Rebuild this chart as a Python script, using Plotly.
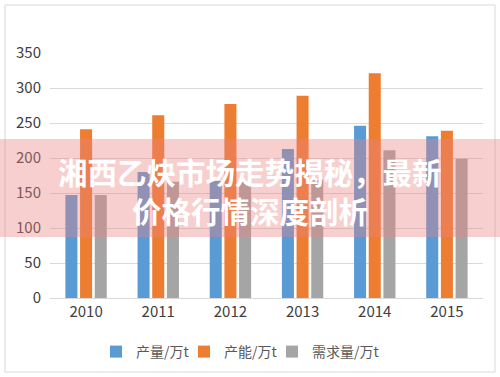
import plotly.graph_objects as go

years = ["2010", "2011", "2012", "2013", "2014", "2015"]
production = [147, 180, 167, 213, 246, 231]
capacity = [241, 261, 277, 289, 321, 239]
demand = [147, 166, 166, 169, 211, 199]
series_names = ["产量/万t", "产能/万t", "需求量/万t"]
colors = ["#5B9BD5", "#ED7D31", "#A5A5A5"]
y_ticks = [0, 50, 100, 150, 200, 250, 300, 350]
title_lines = ["湘西乙炔市场走势揭秘，最新", "价格行情深度剖析"]

W, H = 500, 377
L, R, T, B = 50, 17, 53, 79

font_family = "Noto Sans CJK SC, Microsoft YaHei, sans-serif"

def py(pix):
    return 1 - (pix - T) / (H - T - B)

def px(pix):
    return (pix - L) / (W - L - R)

legend_ids = ["legend", "legend2", "legend3"]
legend_left = [96, 184, 272]

fig = go.Figure()
for name, vals, c, lid in zip(series_names, [production, capacity, demand], colors, legend_ids):
    fig.add_trace(go.Bar(x=years, y=vals, name=name, legend=lid,
                         marker=dict(color=c, line=dict(width=0))))

legend_common = dict(orientation="h", yanchor="middle", xanchor="left",
                     font=dict(size=14, color="#595959"), itemwidth=30,
                     bgcolor="rgba(0,0,0,0)")

fig.update_layout(
    width=W, height=H,
    margin=dict(l=L, r=R, t=T, b=B, autoexpand=False),
    paper_bgcolor="white", plot_bgcolor="white",
    barmode="group", bargap=0.39, bargroupgap=0.18,
    font=dict(family=font_family, color="#595959", size=15),
    showlegend=True,
    legend=dict(x=px(legend_left[0]), y=py(352), **legend_common),
    legend2=dict(x=px(legend_left[1]), y=py(352), **legend_common),
    legend3=dict(x=px(legend_left[2]), y=py(352), **legend_common),
    xaxis=dict(showgrid=False, showline=True, linecolor="#D9D9D9", linewidth=1,
               ticks="", tickfont=dict(size=15, color="#404040")),
    yaxis=dict(range=[0, 350], tickvals=y_ticks, showgrid=True, gridcolor="#D9D9D9",
               gridwidth=1, zeroline=False, showline=False, ticks="",
               tickfont=dict(size=15, color="#404040"), ticklabelstandoff=8),
)

# outer border
fig.add_shape(type="rect", xref="paper", yref="paper",
              x0=px(5), x1=px(495), y0=py(372), y1=py(5),
              line=dict(color="#D9D9D9", width=1), fillcolor="rgba(0,0,0,0)", layer="below")

# banner band
fig.add_shape(type="rect", xref="paper", yref="paper",
              x0=px(0), x1=px(W), y0=py(237), y1=py(139),
              line=dict(width=0), fillcolor="rgba(235,130,130,0.38)", layer="above")

fig.add_annotation(xref="paper", yref="paper", x=px(250), y=py(171),
                   text="<b>" + title_lines[0] + "</b>", showarrow=False,
                   font=dict(size=29.5, color="white", family=font_family),
                   xanchor="center", yanchor="middle")
fig.add_annotation(xref="paper", yref="paper", x=px(250), y=py(210),
                   text="<b>" + title_lines[1] + "</b>", showarrow=False,
                   font=dict(size=29.5, color="white", family=font_family),
                   xanchor="center", yanchor="middle")

fig.write_html("out.html", config={"displayModeBar": False},
               post_script="document.body.style.margin='0';")
